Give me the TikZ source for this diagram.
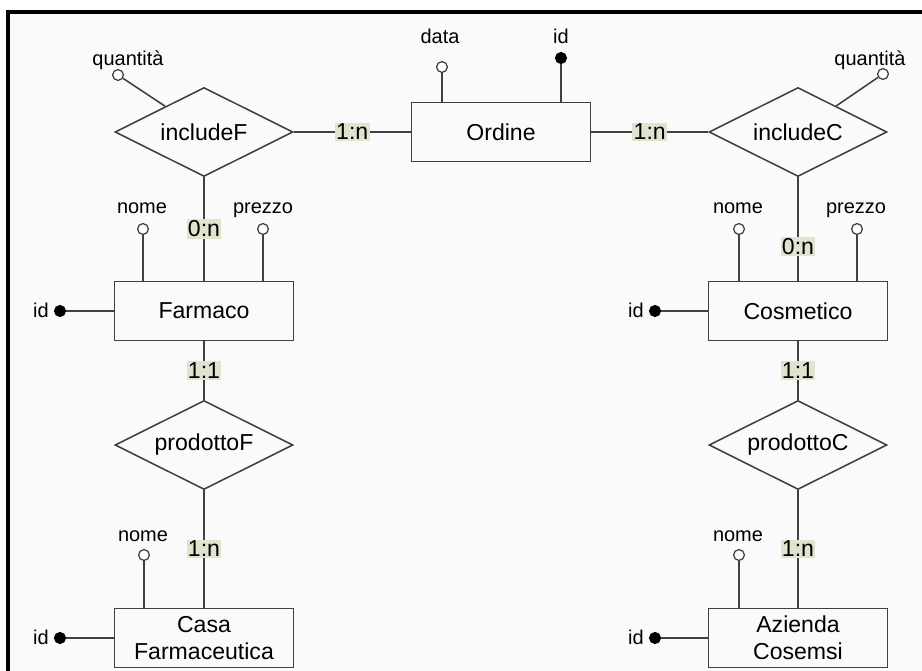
\documentclass[tikz,border=0pt]{standalone}
\usepackage{fontspec}
\setmainfont{Liberation Sans}
\usetikzlibrary{shapes.geometric}
\definecolor{cardbg}{RGB}{222,228,205}
\definecolor{linegray}{RGB}{64,64,64}
\definecolor{paper}{RGB}{250,250,250}

\tikzset{
  entity/.style={draw=linegray, line width=1.1pt, minimum width=4.475cm, minimum height=1.475cm,
    inner sep=0pt, align=center, font=\fontsize{16.4}{19}\selectfont},
  relation/.style={draw=linegray, diamond, aspect=2, line width=1.1pt, minimum width=4.45cm,
    minimum height=2.225cm, inner sep=0pt, font=\fontsize{16.4}{19}\selectfont},
  attr/.style={circle, draw=linegray, fill=white, line width=0.9pt, minimum size=0.27cm, inner sep=0pt},
  keyattr/.style={attr, fill=black, draw=black},
  attrname/.style={anchor=base, inner sep=0pt, font=\fontsize{14.2}{16}\selectfont},
  card/.style={fill=cardbg, inner sep=1pt, font=\fontsize{16.4}{19}\selectfont},
  link/.style={draw=linegray, line width=1.1pt}
}

\begin{document}
\begin{tikzpicture}[x=0.025cm, y=-0.025cm]
          \useasboundingbox (0,0) rectangle (922,671);
          \fill[paper] (8,12) rectangle (922,671);
          \draw[line width=2.2pt] (8,680) -- (8,12) -- (930,12);

          % entities and relations
          \node[entity] (ordine) at (501,132) {Ordine};
          \node[relation] (inclf) at (204,132) {includeF};
          \node[relation] (inclc) at (798,132) {includeC};
          \node[entity] (farm) at (204,311) {Farmaco};
          \node[entity] (cosm) at (798,311) {Cosmetico};
          \node[relation] (prodf) at (204,445) {prodottoF};
          \node[relation] (prodc) at (798,445) {prodottoC};
          \node[entity] (casa) at (204,638) {Casa\\Farmaceutica};
          \node[entity] (azienda) at (798,638) {Azienda\\Cosemsi};

          \draw[link] (inclf) to node[card]{1:n} (ordine);
          \draw[link] (ordine) to node[card]{1:n} (inclc);
          \draw[link] (inclf) to node[card]{0:n} (farm);
          \draw[link] (inclc) to node[card, pos=0.67]{0:n} (cosm);
          \draw[link] (farm) to node[card]{1:1} (prodf);
          \draw[link] (cosm) to node[card]{1:1} (prodc);
          \draw[link] (prodf) to node[card]{1:n} (casa);
          \draw[link] (prodc) to node[card]{1:n} (azienda);

          % attributes
          \node[attr] (qf) at (118,75) {};
          \node[attrname] (qft) at (128,65) {quantità};
          \node[attr] (data) at (442,67) {};
          \node[attrname] (datat) at (440,43) {data};
          \node[keyattr] (idord) at (561,58) {};
          \node[attrname] (idordt) at (561,43) {id};
          \node[attr] (qc) at (883,74) {};
          \node[attrname] (qct) at (870,65) {quantità};

          \node[attr] (nomef) at (143,229) {};
          \node[attrname] (nomeft) at (142,213) {nome};
          \node[attr] (prezzof) at (263,229) {};
          \node[attrname] (prezzoft) at (263,213) {prezzo};
          \node[keyattr] (idf) at (60,311) {};
          \node[attrname, anchor=base east] (idft) at (49,317) {id};

          \node[attr] (nomec) at (739,229) {};
          \node[attrname] (nomect) at (738,213) {nome};
          \node[attr] (prezzoc) at (857,229) {};
          \node[attrname] (prezzoct) at (856,213) {prezzo};
          \node[keyattr] (idc) at (655,311) {};
          \node[attrname, anchor=base east] (idct) at (644,317) {id};

          \node[attr] (nomecasa) at (144,555) {};
          \node[attrname] (nomecasat) at (143,541) {nome};
          \node[keyattr] (idcasa) at (60,638) {};
          \node[attrname, anchor=base east] (idcasat) at (49,644) {id};

          \node[attr] (nomeaz) at (739,555) {};
          \node[attrname] (nomeazt) at (738,541) {nome};
          \node[keyattr] (idaz) at (655,638) {};
          \node[attrname, anchor=base east] (idazt) at (644,644) {id};

          \draw[link] (qf) -- (inclf);
          \draw[link] (qc) -- (inclc);
          \draw[link] (data) -- (data |- ordine.north);
          \draw[link] (idord) -- (idord |- ordine.north);
          \draw[link] (nomef) -- (nomef |- farm.north);
          \draw[link] (prezzof) -- (prezzof |- farm.north);
          \draw[link] (idf) -- (farm);
          \draw[link] (nomec) -- (nomec |- cosm.north);
          \draw[link] (prezzoc) -- (prezzoc |- cosm.north);
          \draw[link] (idc) -- (cosm);
          \draw[link] (nomecasa) -- (nomecasa |- casa.north);
          \draw[link] (idcasa) -- (casa);
          \draw[link] (nomeaz) -- (nomeaz |- azienda.north);
          \draw[link] (idaz) -- (azienda);
        \end{tikzpicture}
\end{document}
